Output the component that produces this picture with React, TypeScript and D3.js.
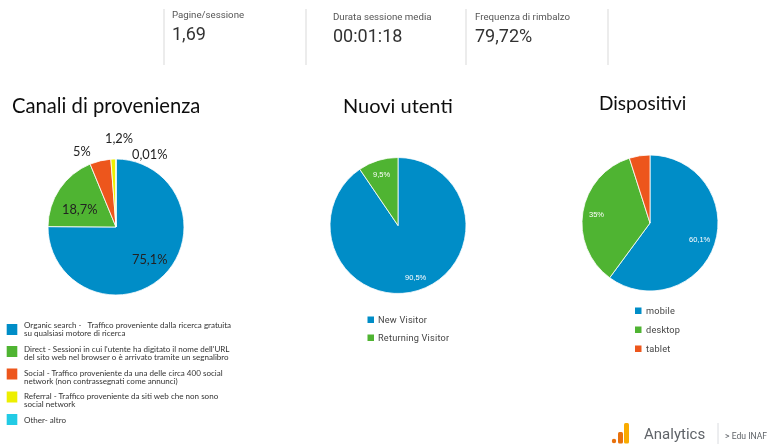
import React from "react";
import * as d3 from "d3";

const BLUE = "#058dc7";
const GREEN = "#50b432";
const ORANGE = "#ed561b";
const YELLOW = "#edef00";
const CYAN = "#24cbe5";

const channelValues = [75.1, 18.7, 5, 1.2, 0.01];
const channelColors = [BLUE, GREEN, ORANGE, YELLOW, CYAN];
const channelTexts = ["75,1%", "18,7%", "5%", "1,2%", "0,01%"];
const visitorValues = [90.5, 9.5];
const visitorColors = [BLUE, GREEN];
const visitorTexts = ["90,5%", "9,5%"];
const visitorNames = ["New Visitor", "Returning Visitor"];
const deviceValues = [60.1, 35, 4.9];
const deviceColors = [BLUE, GREEN, ORANGE];
const deviceTexts = ["60,1%", "35%"];
const deviceNames = ["mobile", "desktop", "tablet"];

const metricLabels = ["Pagine/sessione", "Durata sessione media", "Frequenza di rimbalzo"];
const metricValues = ["1,69", "00:01:18", "79,72%"];
const titleTexts = ["Canali di provenienza", "Nuovi utenti", "Dispositivi"];
const channelLegendLines = [
  ["Organic search -   Traffico proveniente dalla ricerca gratuita", "su qualsiasi motore di ricerca"],
  ["Direct - Sessioni in cui l'utente ha digitato il nome dell'URL", "del sito web nel browser o è arrivato tramite un segnalibro"],
  ["Social - Traffico proveniente da una delle circa 400 social", "network (non contrassegnati come annunci)"],
  ["Referral - Traffico proveniente da siti web che non sono", "social network"],
  ["Other- altro"],
];

// layout
const dividerXs = [164, 306, 466, 608];
const metricPos = [
  { x: 172, ly: 18, vy: 40 },
  { x: 333, ly: 20, vy: 42 },
  { x: 475, ly: 20, vy: 42 },
];
const titlePos = [
  { x: 12, y: 113, size: 20.2 },
  { x: 343, y: 113, size: 20 },
  { x: 599, y: 110, size: 19 },
];
const channelLabelPos = [[132, 264], [62, 214], [73, 156], [105, 143], [132, 159]];
const visitorLabelPos = [[405, 280], [373, 177]];
const deviceLabelPos = [[689, 242], [589, 217]];
const channelSquareY = [324, 346, 368.5, 391.5, 414];
const channelTextY = [328, 351.7, 375.7, 399, 422.5];
const visitorLegendY = [323, 341];
const deviceLegendY = [314, 333, 352];

function Pie({ cx, cy, r, values, colors }: { cx: number; cy: number; r: number; values: number[]; colors: string[] }) {
  const arcs = d3.pie<number>().sort(null)(values);
  const arc = d3.arc<d3.PieArcDatum<number>>().innerRadius(0).outerRadius(r);
  return (
    <g transform={`translate(${cx},${cy})`}>
      {arcs.map((a, i) => (
        <path key={i} d={arc(a) ?? ""} fill={colors[i]} stroke="#fff" strokeWidth={0.8} />
      ))}
    </g>
  );
}

const BODY = "Lato, sans-serif";
const UI = "Roboto, sans-serif";
const SMALL = "'Liberation Sans', sans-serif";

export default function App() {
  return (
    <svg
      width={768}
      height={444}
      viewBox="0 0 768 444"
      style={{ position: "fixed", left: 0, top: 0, background: "#fff", display: "block" }}
    >
      <defs>
        <filter id="soft" x="-5%" y="-5%" width="110%" height="110%">
          <feGaussianBlur stdDeviation="0.35" />
        </filter>
      </defs>
      <g filter="url(#soft)">
        {dividerXs.map((x) => (
          <line key={x} x1={x} x2={x} y1={9} y2={65} stroke="#d9d9d9" strokeWidth={1} />
        ))}
        {metricLabels.map((label, i) => (
          <g key={label} fontFamily={UI}>
            <text x={metricPos[i].x} y={metricPos[i].ly} fontSize={9.7} fill="#555">{label}</text>
            <text x={metricPos[i].x} y={metricPos[i].vy} fontSize={18} fill="#333">{metricValues[i]}</text>
          </g>
        ))}
        {titleTexts.map((t, i) => (
          <text key={t} x={titlePos[i].x} y={titlePos[i].y} fontFamily={BODY} fontSize={titlePos[i].size} fill="#111">{t}</text>
        ))}

        <Pie cx={116} cy={227} r={68} values={channelValues} colors={channelColors} />
        <Pie cx={398} cy={225.5} r={68} values={visitorValues} colors={visitorColors} />
        <Pie cx={650} cy={223} r={68} values={deviceValues} colors={deviceColors} />

        {channelTexts.map((t, i) => (
          <text key={t} x={channelLabelPos[i][0]} y={channelLabelPos[i][1]} fontFamily={BODY} fontSize={12.8} fill="#222">{t}</text>
        ))}
        {visitorTexts.map((t, i) => (
          <text key={t} x={visitorLabelPos[i][0]} y={visitorLabelPos[i][1]} fontFamily={SMALL} fontSize={7.5} fill="#fff">{t}</text>
        ))}
        {deviceTexts.map((t, i) => (
          <text key={t} x={deviceLabelPos[i][0]} y={deviceLabelPos[i][1]} fontFamily={SMALL} fontSize={7.5} fill="#fff">{t}</text>
        ))}

        {channelLegendLines.map((lines, k) => (
          <g key={lines[0]}>
            <rect x={6.7} y={channelSquareY[k]} width={10.6} height={11} fill={channelColors[k]} />
            {lines.map((line, i) => (
              <text key={i} x={24} y={channelTextY[k] + i * 8} fontFamily={BODY} fontSize={8.05} fill="#333" style={{ whiteSpace: "pre" }}>{line}</text>
            ))}
          </g>
        ))}

        {visitorNames.map((t, i) => (
          <g key={t}>
            <rect x={367.5} y={visitorLegendY[i] - 6.5} width={6.5} height={6.5} fill={visitorColors[i]} />
            <text x={378} y={visitorLegendY[i]} fontFamily={UI} fontSize={9.2} fill="#444" letterSpacing={0.2}>{t}</text>
          </g>
        ))}
        {deviceNames.map((t, i) => (
          <g key={t}>
            <rect x={635} y={deviceLegendY[i] - 6.5} width={6.5} height={6.5} fill={deviceColors[i]} />
            <text x={646} y={deviceLegendY[i]} fontFamily={UI} fontSize={9.2} fill="#444" letterSpacing={0.2}>{t}</text>
          </g>
        ))}

        <circle cx={614} cy={441} r={2.2} fill="#e8710a" />
        <rect x={618} y={432} width={5} height={11.5} fill="#e8710a" rx={1.5} />
        <rect x={624} y={423} width={5} height={20.5} fill="#f9ab00" rx={1.5} />
        <text x={644} y={439} fontFamily={UI} fontSize={15} fill="#5f6368">Analytics</text>
        <line x1={718} x2={718} y1={423} y2={444} stroke="#dadce0" />
        <text x={725} y={439} fontFamily={UI} fontSize={8.6} fill="#5f6368">{"> Edu INAF"}</text>
      </g>
    </svg>
  );
}
